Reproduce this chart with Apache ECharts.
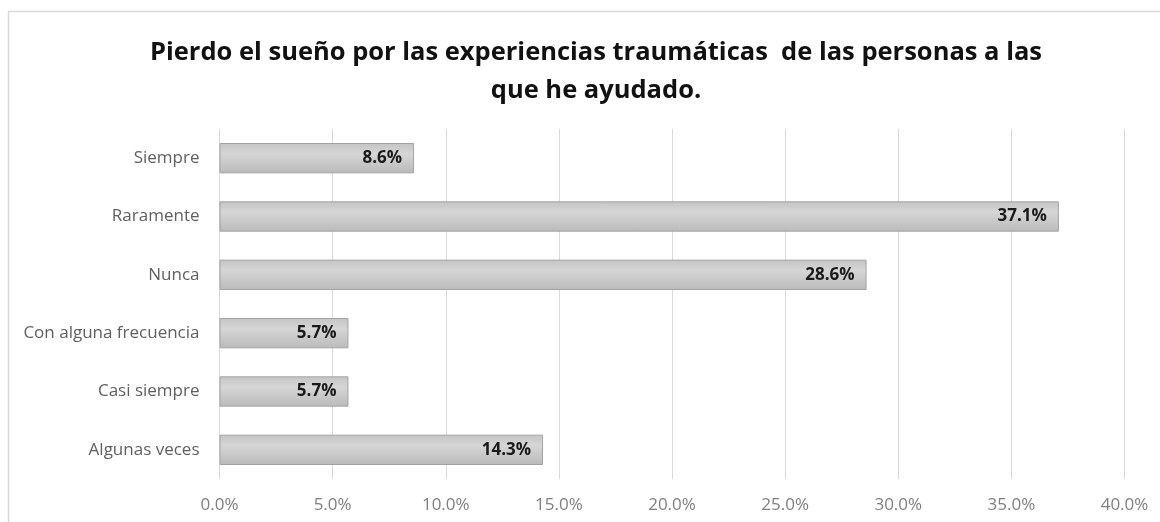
<!DOCTYPE html>
<html>
<head>
<meta charset="utf-8">
<script src="https://cdn.jsdelivr.net/npm/echarts@6/dist/echarts.min.js"></script>
<style>
  html, body { margin: 0; padding: 0; background: #ffffff; }
  #chart { width: 1160px; height: 522px; }
</style>
</head>
<body>
<div id="chart"></div>
<script>
// Survey answers, listed bottom to top as drawn on the category axis
const categories = ['Algunas veces', 'Casi siempre', 'Con alguna frecuencia', 'Nunca', 'Raramente', 'Siempre'];
const shares = [14.3, 5.7, 5.7, 28.6, 37.1, 8.6];
const axisTicks = [0, 5, 10, 15, 20, 25, 30, 35, 40];
const titleText = 'Pierdo el sueño por las experiencias traumáticas  de las personas a las\nque he ayudado.';

const chart = echarts.init(document.getElementById('chart'), null, { renderer: 'canvas' });

const barFill = new echarts.graphic.LinearGradient(0, 0, 0, 1, [
  { offset: 0, color: '#c4c4c4' },
  { offset: 0.35, color: '#d6d6d6' },
  { offset: 1, color: '#bababa' }
]);

chart.setOption({
  backgroundColor: '#ffffff',
  animation: false,
  textStyle: { fontFamily: '"Open Sans", "DejaVu Sans", sans-serif' },
  graphic: [{
    type: 'rect',
    shape: { x: 8.5, y: 11.5, width: 1200, height: 600 },
    style: { fill: 'none', stroke: '#d9d9d9', lineWidth: 1.5 },
    silent: true,
    z: -1
  }],
  title: {
    text: titleText,
    left: 591,
    textAlign: 'center',
    top: 29,
    textStyle: {
      fontFamily: '"Open Sans", sans-serif',
      fontSize: 25.5,
      fontWeight: 'bold',
      color: '#111111',
      lineHeight: 38
    }
  },
  grid: { left: 219.5, right: 35.5, top: 129, bottom: 43, containLabel: false },
  xAxis: {
    type: 'value',
    min: axisTicks[0],
    max: axisTicks[axisTicks.length - 1],
    interval: axisTicks[1] - axisTicks[0],
    axisLine: { show: false },
    axisTick: { show: false },
    splitLine: { show: true, lineStyle: { color: '#d9d9d9', width: 1 } },
    axisLabel: {
      formatter: v => v.toFixed(1) + '%',
      color: '#7f7f7f',
      fontSize: 17,
      margin: 18
    }
  },
  yAxis: {
    type: 'category',
    data: categories,
    axisLine: { show: false },
    axisTick: { show: false },
    axisLabel: { color: '#5f5f5f', fontSize: 17, margin: 20 }
  },
  series: [{
    type: 'bar',
    data: shares,
    barCategoryGap: '48%',
    itemStyle: { color: barFill, borderColor: '#a3a3a3', borderWidth: 1 },
    label: {
      show: true,
      position: 'insideRight',
      distance: 12,
      formatter: p => p.value.toFixed(1) + '%',
      color: '#1a1a1a',
      fontWeight: 'bold',
      fontSize: 17
    }
  }]
});
</script>
</body>
</html>
